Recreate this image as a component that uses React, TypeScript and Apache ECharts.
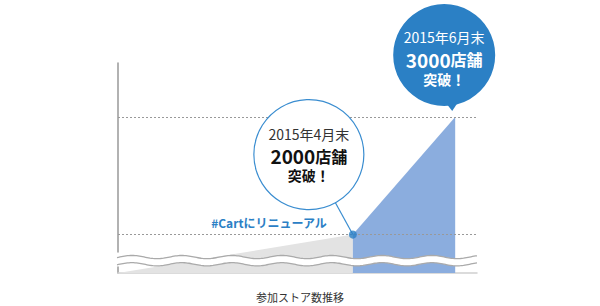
import React, { useEffect, useRef } from 'react';
import * as echarts from 'echarts';

// ---- data ----
const dates = ['2014-12-11', '2015-04-30', '2015-06-30'];
const stores = [0, 2000, 3000];
const milestoneValues = [2000, 3000];
const xRange = ['2014-12-11', '2015-07-13'];
const yRange = [0, 3460];
const breakRange = [50, 1850];
const bubble1Lines = ['2015年4月末', '2000', '店舗', '突破！'];
const bubble2Lines = ['2015年6月末', '3000', '店舗', '突破！'];
const renewalLabel = '#Cartにリニューアル';
const chartTitle = '参加ストア数推移';

const FONT = "'Noto Sans CJK JP', 'Noto Sans', sans-serif";
const BLUE = '#2b80c5';

function bubbleRich(color: string, strong: string) {
  return {
    t: { fontFamily: FONT, fontSize: 14, lineHeight: 22, fill: color, verticalAlign: 'middle' },
    a: { fontFamily: FONT, fontSize: 19, lineHeight: 22, fontWeight: 'bold', fill: strong, verticalAlign: 'middle' },
    b: { fontFamily: FONT, fontSize: 16, lineHeight: 22, fontWeight: 'bold', fill: strong, verticalAlign: 'middle' },
    c: { fontFamily: FONT, fontSize: 14, lineHeight: 17, fontWeight: 'bold', fill: strong, verticalAlign: 'middle' },
  };
}
function bubbleText(lines: string[]) {
  return `{t|${lines[0]}}\n{a|${lines[1]}}{b|${lines[2]}}\n{c|${lines[3]}}`;
}

export default function App() {
  const ref = useRef<HTMLDivElement>(null);
  useEffect(() => {
    if (!ref.current) return;
    const chart = echarts.init(ref.current, null, { renderer: 'svg' });
    const t = dates.map((d) => +echarts.time.parse(d));
    const grayData = [[t[0], stores[0]], [t[1], stores[1]]];
    const blueData = [[t[1], stores[1]], [t[2], stores[2]]];

    chart.setOption({
      animation: false,
      grid: { left: 118, right: 123, top: 63, bottom: 33 },
      xAxis: {
        type: 'time',
        min: +echarts.time.parse(xRange[0]),
        max: +echarts.time.parse(xRange[1]),
        axisLine: { show: true, lineStyle: { color: '#cfcfcf', width: 1.5 } },
        axisTick: { show: false },
        axisLabel: { show: false },
        splitLine: { show: false },
      },
      yAxis: {
        type: 'value',
        min: yRange[0],
        max: yRange[1],
        breaks: [{ start: breakRange[0], end: breakRange[1], gap: '7.1%' }],
        breakArea: { show: false },
        axisLine: { show: true, lineStyle: { color: '#999', width: 1.5 } },
        axisTick: { show: false },
        axisLabel: { show: false },
        splitLine: { show: false },
      },
      series: [
        {
          type: 'line',
          data: grayData,
          symbol: 'none',
          lineStyle: { width: 0 },
          areaStyle: { color: '#e3e3e3', opacity: 1 },
          z: 2,
        },
        {
          type: 'line',
          data: blueData,
          symbol: 'none',
          lineStyle: { width: 0 },
          areaStyle: { color: '#8badde', opacity: 1 },
          z: 2,
          markLine: {
            silent: true,
            symbol: 'none',
            label: { show: false },
            lineStyle: { color: '#999', type: [2, 2], width: 1 },
            data: milestoneValues.map((v) => ({ yAxis: v })),
          },
        },
        {
          type: 'scatter',
          data: [[t[1], stores[1]]],
          symbolSize: 8,
          itemStyle: { color: BLUE },
          z: 5,
        },
      ],
    });

    const p1 = chart.convertToPixel({ gridIndex: 0 }, [t[1], stores[1]]) as number[];
    const p2 = chart.convertToPixel({ gridIndex: 0 }, [t[2], stores[2]]) as number[];
    const yb0 = chart.convertToPixel({ yAxisIndex: 0 }, breakRange[0]) as number;
    const yb1 = chart.convertToPixel({ yAxisIndex: 0 }, breakRange[1]) as number;
    const xL = chart.convertToPixel({ xAxisIndex: 0 }, +echarts.time.parse(xRange[0])) as number;
    const xR = chart.convertToPixel({ xAxisIndex: 0 }, +echarts.time.parse(xRange[1])) as number;
    const waveC = (yb0 + yb1) / 2 + 1;

    // decorative wave (axis break mark)
    const upper: number[][] = [];
    const lower: number[][] = [];
    const P = 50, A = 1.6, x0 = 344.5;
    for (let x = xL - 1; x <= xR + 0.5; x += 1.5) {
      const s = A * Math.sin((2 * Math.PI * (x - x0)) / P);
      upper.push([x, waveC - 3.6 + s]);
      lower.push([x, waveC + 3.6 + s]);
    }
    const band = upper.concat(lower.slice().reverse());

    const c1 = [p1[0] - 44, p1[1] - 80];
    const r1 = 55;
    const c2 = [p2[0] - 11, p2[1] - 62];
    const r2 = 51;
    const tip = [p2[0] - 3, p2[1] - 6];

    chart.setOption({
      graphic: [
        { type: 'polygon', z: 10, shape: { points: band }, style: { fill: '#fff', stroke: 'none' } },
        { type: 'polyline', z: 11, shape: { points: upper }, style: { stroke: '#aaa', lineWidth: 1.3, fill: 'none' } },
        { type: 'polyline', z: 11, shape: { points: lower }, style: { stroke: '#aaa', lineWidth: 1.3, fill: 'none' } },
        {
          type: 'line', z: 3,
          shape: { x1: p1[0], y1: p1[1], x2: c1[0], y2: c1[1] },
          style: { stroke: '#3a8dd0', lineWidth: 1.2 },
        },
        {
          type: 'circle', z: 12,
          shape: { cx: c1[0], cy: c1[1], r: r1 },
          style: { fill: '#fff', stroke: '#3a8dd0', lineWidth: 1.2 },
        },
        {
          type: 'text', z: 13, x: c1[0], y: c1[1] - 1.5,
          style: {
            fontFamily: FONT, align: 'center', verticalAlign: 'middle',
            text: bubbleText(bubble1Lines),
            rich: bubbleRich('#333', '#111'),
          },
        },
        {
          type: 'polygon', z: 12,
          shape: { points: [[tip[0] - 7, tip[1] - 9], [tip[0] + 6, tip[1] - 9], tip] },
          style: { fill: BLUE },
        },
        {
          type: 'circle', z: 12,
          shape: { cx: c2[0], cy: c2[1], r: r2 },
          style: { fill: BLUE },
        },
        {
          type: 'text', z: 13, x: c2[0], y: c2[1] + 1.5,
          style: {
            fontFamily: FONT, align: 'center', verticalAlign: 'middle',
            text: bubbleText(bubble2Lines),
            rich: bubbleRich('#fff', '#fff'),
          },
        },
        {
          type: 'text', z: 13, x: p1[0] - 26, y: p1[1] - 12,
          style: { fontFamily: FONT, align: 'right', verticalAlign: 'middle', text: renewalLabel, fontSize: 12, fontWeight: 'bold', fill: BLUE },
        },
        {
          type: 'text', z: 13, x: 300, y: 297,
          style: { fontFamily: FONT, align: 'center', verticalAlign: 'middle', text: chartTitle, fontSize: 11, fill: '#333' },
        },
      ],
    });

    return () => chart.dispose();
  }, []);
  return <div ref={ref} style={{ position: 'absolute', left: 0, top: 0, width: 600, height: 306 }} />;
}
